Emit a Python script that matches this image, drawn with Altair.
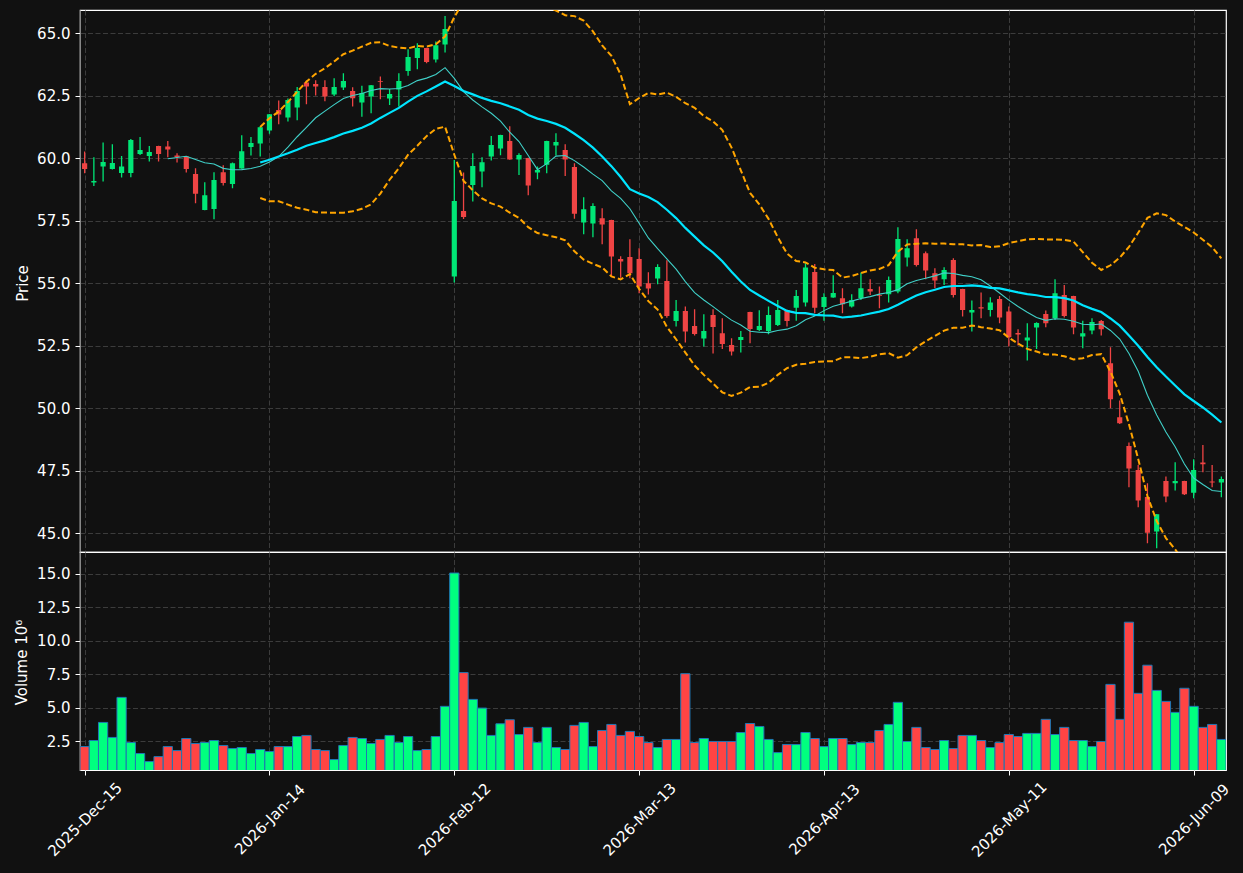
import json
import pandas as pd
import altair as alt

opens = [
    59.80, 59.03, 59.67, 59.57, 59.41, 59.41, 60.17, 60.09, 60.49, 60.47,
    60.11, 60.07, 59.37, 57.93, 57.97, 59.44, 58.97, 59.59, 60.45, 60.59,
    61.11, 61.93, 61.63, 62.03, 63.03, 62.97, 62.85, 62.55, 62.83, 62.69,
    62.23, 62.47, 63.09, 62.39, 62.75, 63.49, 64.01, 64.41, 63.95, 64.55,
    55.27, 57.89, 58.93, 59.47, 60.07, 60.39, 60.69, 59.95, 60.01, 59.43,
    59.74, 60.51, 60.33, 59.65, 57.43, 57.39, 57.60, 57.53, 55.97, 56.05,
    55.97, 55.00, 55.19, 55.09, 53.49, 53.89, 53.29, 52.79, 53.73, 53.00,
    52.53, 52.73, 53.85, 53.13, 53.09, 53.33, 53.93, 54.02, 54.23, 55.45,
    54.05, 54.43, 54.40, 54.07, 54.40, 54.77, 54.53, 54.56, 54.67, 56.03,
    56.80, 56.20, 55.40, 55.16, 55.93, 54.77, 53.83, 54.04, 53.93, 54.37,
    53.87, 53.01, 52.71, 53.23, 53.77, 53.60, 54.53, 54.49, 52.87, 53.11,
    53.49, 51.80, 49.64, 48.49, 47.53, 46.45, 45.07, 47.09, 47.00, 47.09,
    46.62, 47.83, 47.07, 47.03,
]
highs = [
    60.27, 60.04, 60.63, 60.56, 60.09, 60.77, 60.85, 60.49, 60.50, 60.69,
    60.20, 60.08, 59.60, 59.04, 59.44, 59.72, 59.83, 60.92, 60.85, 61.27,
    61.77, 62.31, 62.39, 62.85, 63.11, 63.12, 63.12, 63.20, 63.40, 62.84,
    62.90, 62.93, 63.27, 62.77, 63.40, 64.36, 64.60, 64.42, 64.67, 65.69,
    59.93, 59.43, 60.20, 60.04, 60.89, 60.94, 61.28, 60.20, 60.02, 59.67,
    60.70, 61.00, 60.56, 59.80, 58.44, 58.20, 58.00, 57.54, 56.08, 56.76,
    56.40, 55.44, 55.76, 55.92, 54.33, 54.07, 53.96, 53.76, 53.96, 53.60,
    52.80, 53.09, 53.86, 53.92, 54.07, 54.33, 53.94, 54.73, 55.80, 55.77,
    54.60, 55.32, 54.80, 54.56, 55.43, 55.16, 54.87, 55.27, 57.24, 56.76,
    57.16, 56.27, 55.60, 55.64, 56.00, 54.78, 54.31, 54.63, 54.44, 54.49,
    54.07, 53.16, 53.40, 53.44, 53.91, 55.16, 54.93, 54.50, 53.50, 53.60,
    53.53, 52.44, 50.31, 48.63, 47.73, 47.00, 45.77, 47.27, 47.84, 47.10,
    47.96, 48.53, 47.73, 47.27,
]
lows = [
    59.40, 58.89, 59.07, 59.55, 59.23, 59.24, 60.13, 59.87, 59.87, 60.04,
    59.83, 59.43, 58.20, 57.92, 57.56, 58.91, 58.80, 59.58, 60.11, 60.07,
    60.98, 61.36, 61.47, 61.52, 62.16, 62.51, 62.28, 62.48, 62.73, 62.07,
    61.66, 61.80, 62.36, 62.13, 62.07, 63.30, 63.56, 63.80, 63.83, 64.23,
    55.03, 57.57, 58.27, 58.84, 59.91, 60.12, 59.94, 59.33, 58.52, 59.16,
    59.40, 60.11, 59.29, 57.58, 56.96, 56.84, 56.56, 55.27, 55.22, 55.20,
    54.60, 54.55, 54.96, 53.62, 53.27, 52.63, 52.91, 52.47, 52.19, 52.37,
    52.11, 52.23, 52.60, 53.09, 52.96, 53.29, 53.27, 53.50, 54.07, 53.80,
    53.50, 54.42, 53.80, 54.03, 54.33, 54.53, 54.00, 54.23, 54.60, 55.67,
    55.67, 55.16, 54.80, 54.93, 54.43, 53.67, 53.07, 53.60, 53.67, 53.40,
    52.47, 52.51, 51.91, 52.37, 53.24, 53.53, 53.63, 52.96, 52.40, 52.96,
    52.91, 50.00, 49.37, 46.84, 46.04, 44.60, 44.40, 46.24, 46.71, 46.53,
    46.40, 47.44, 46.84, 46.44,
]
closes = [
    59.57, 59.09, 59.85, 59.81, 59.67, 60.73, 60.33, 60.25, 60.17, 60.35,
    60.05, 59.57, 58.58, 58.52, 59.13, 59.01, 59.80, 60.28, 60.61, 61.24,
    61.76, 61.75, 62.33, 62.69, 62.87, 62.87, 62.47, 62.85, 63.09, 62.40,
    62.61, 62.92, 63.06, 62.57, 63.09, 64.05, 64.41, 63.85, 64.52, 65.17,
    58.29, 57.65, 59.69, 59.84, 60.53, 60.93, 59.95, 60.13, 58.91, 59.53,
    60.69, 60.65, 59.95, 57.78, 57.96, 58.09, 57.35, 56.07, 55.87, 55.40,
    54.87, 54.79, 55.65, 53.69, 53.89, 53.07, 52.97, 53.09, 53.25, 52.57,
    52.27, 52.85, 53.17, 53.29, 53.73, 53.93, 53.49, 54.49, 55.63, 54.02,
    54.45, 54.61, 54.16, 54.33, 54.80, 54.67, 54.50, 55.13, 56.77, 56.40,
    55.73, 55.51, 55.11, 55.53, 54.53, 53.93, 53.93, 53.99, 54.23, 53.63,
    52.84, 52.95, 52.83, 53.41, 53.40, 54.60, 53.69, 53.23, 53.00, 53.45,
    53.16, 50.36, 49.40, 47.59, 46.31, 45.02, 45.76, 46.47, 47.09, 46.56,
    47.53, 47.76, 47.03, 47.17,
]
volumes = [  # millions
    2.12, 2.57, 3.92, 2.80, 5.79, 2.42, 1.60, 1.00, 1.37, 2.12,
    1.82, 2.72, 2.35, 2.42, 2.57, 2.20, 1.97, 2.05, 1.60, 1.90,
    1.75, 2.12, 2.12, 2.87, 2.95, 1.90, 1.82, 1.15, 2.20, 2.80,
    2.72, 2.35, 2.65, 2.95, 2.42, 2.87, 1.82, 1.90, 2.87, 5.12,
    15.07, 7.64, 5.64, 4.99, 2.95, 3.82, 4.12, 3.02, 3.55, 2.42,
    3.55, 2.05, 1.90, 3.70, 3.92, 2.12, 3.32, 3.77, 2.95, 3.25,
    2.87, 2.42, 2.05, 2.65, 2.65, 7.56, 2.42, 2.72, 2.50, 2.50,
    2.50, 3.17, 3.84, 3.62, 2.65, 1.67, 2.27, 2.27, 3.17, 2.72,
    2.12, 2.72, 2.72, 2.27, 2.42, 2.42, 3.32, 3.77, 5.42, 2.50,
    3.55, 2.05, 1.90, 2.57, 1.97, 2.95, 2.95, 2.57, 2.05, 2.42,
    3.02, 2.87, 3.10, 3.10, 4.15, 3.02, 3.55, 2.57, 2.57, 2.12,
    2.50, 6.76, 4.15, 11.40, 6.09, 8.19, 6.31, 5.49, 4.67, 6.47,
    5.12, 3.55, 3.77, 2.65,
]
tick_positions = [0, 20, 40, 60, 80, 100, 120]
tick_labels = ["2025-Dec-15", "2026-Jan-14", "2026-Feb-12", "2026-Mar-13",
               "2026-Apr-13", "2026-May-11", "2026-Jun-09"]
price_ticks = [45.0, 47.5, 50.0, 52.5, 55.0, 57.5, 60.0, 62.5, 65.0]
volume_ticks = [2.5, 5.0, 7.5, 10.0, 12.5, 15.0]

df = pd.DataFrame({
    "idx": list(range(len(closes))),
    "o": opens, "h": highs, "l": lows, "c": closes, "v": volumes,
})

BG = "#111111"
UP = "#00e676"
DOWN = "#ef4444"
VUP = "#00ff7f"
VDOWN = "#ff4444"
FONT = "DejaVu Sans"

W, HP, HV = 1146, 542, 218

xscale = alt.Scale(domain=[-0.5, 123.5], nice=False, zero=False)
pscale = alt.Scale(domain=[44.25, 65.93], nice=False, zero=False)
vscale = alt.Scale(domain=[0.37, 16.64], nice=False, zero=False)

up_cond = "datum.c >= datum.o"

x_price_axis = alt.Axis(values=tick_positions, labels=False, ticks=False,
                        domain=False, grid=True, title=None)
y_price_axis = alt.Axis(values=price_ticks, format=".1f", title="Price",
                        titleX=-58, titleY=273, titleAngle=270,
                        titleAlign="center", titleBaseline="middle",
                        labelPadding=5, grid=True)

label_expr = json.dumps(tick_labels) + "[datum.value / 20]"
x_vol_axis = alt.Axis(values=tick_positions, labelExpr=label_expr, labelAngle=315,
                      labelAlign="center", labelBaseline="middle", labelPadding=44,
                      labelOverlap=False, labelFlush=False, grid=True, title=None,
                      ticks=True, domain=False)
y_vol_axis = alt.Axis(values=volume_ticks, format=".1f", title="Volume  10⁶",
                      titleX=-59, titleY=110, titleAngle=270,
                      titleAlign="center", titleBaseline="middle",
                      labelPadding=5, grid=True)

base = alt.Chart(df).transform_calculate(
    x0="datum.idx - 0.28", x1="datum.idx + 0.28",
    bl="min(datum.o, datum.c)", bh="max(datum.o, datum.c)",
)

wicks = base.mark_rule(strokeWidth=1.3, clip=True).encode(
    x=alt.X("idx:Q", scale=xscale, axis=x_price_axis),
    y=alt.Y("l:Q", scale=pscale, axis=y_price_axis),
    y2="h:Q",
    color=alt.condition(up_cond, alt.value(UP), alt.value(DOWN)),
)
bodies = base.mark_rect(clip=True).encode(
    x="x0:Q", x2="x1:Q", y="bl:Q", y2="bh:Q",
    color=alt.condition(up_cond, alt.value(UP), alt.value(DOWN)),
)

ma = alt.Chart(df).transform_window(
    window=[
        alt.WindowFieldDef(op="mean", field="c", **{"as": "sma20"}),
        alt.WindowFieldDef(op="stdev", field="c", **{"as": "sd20"}),
        alt.WindowFieldDef(op="count", **{"as": "n20"}),
    ],
    frame=[-19, 0], sort=[alt.SortField("idx")],
).transform_window(
    window=[
        alt.WindowFieldDef(op="mean", field="c", **{"as": "sma10"}),
        alt.WindowFieldDef(op="count", **{"as": "n10"}),
    ],
    frame=[-9, 0], sort=[alt.SortField("idx")],
).transform_calculate(
    upper="datum.sma20 + 2 * datum.sd20",
    lower="datum.sma20 - 2 * datum.sd20",
)

line10 = ma.transform_filter("datum.n10 >= 10").mark_line(
    color="#40d0c8", strokeWidth=1.1, clip=True).encode(x="idx:Q", y="sma10:Q")
ma20 = ma.transform_filter("datum.n20 >= 20")
line20 = ma20.mark_line(color="#00e5ff", strokeWidth=2.2, clip=True).encode(
    x="idx:Q", y="sma20:Q")
upper = ma20.mark_line(color="#ffa500", strokeWidth=2.0, strokeDash=[6, 3],
                       clip=True).encode(x="idx:Q", y="upper:Q")
lower = ma20.mark_line(color="#ffa500", strokeWidth=2.0, strokeDash=[6, 3],
                       clip=True).encode(x="idx:Q", y="lower:Q")

frame_top = alt.Chart(alt.Data(values=[{"k": 1}])).mark_rule(opacity=0).encode(
    x=alt.value(-79), x2=alt.value(W + 16), y=alt.value(-9))

price = alt.layer(wicks, bodies, line10, line20, upper, lower, frame_top).properties(
    width=W, height=HP)

vol = alt.Chart(df).transform_calculate(
    x0="datum.idx - 0.5", x1="datum.idx + 0.5", zero="0"
).mark_rect(stroke="#1f77b4", strokeWidth=1, clip=True).encode(
    x=alt.X("x0:Q", scale=xscale, axis=x_vol_axis),
    x2="x1:Q",
    y=alt.Y("v:Q", scale=vscale, axis=y_vol_axis),
    y2="zero:Q",
    fill=alt.condition(up_cond, alt.value(VUP), alt.value(VDOWN)),
)
frame_bottom = alt.Chart(alt.Data(values=[{"k": 1}])).mark_rule(opacity=0).encode(
    x=alt.value(-79), x2=alt.value(W + 16), y=alt.value(HV + 102))

volume = alt.layer(vol, frame_bottom).properties(width=W, height=HV)

chart = alt.vconcat(price, volume, spacing=0, bounds="flush").properties(
    background=BG, padding=0
).configure_view(
    stroke="#ffffff", strokeWidth=1.2
).configure_axis(
    labelColor="#ffffff", labelFont=FONT, labelFontSize=15,
    titleColor="#ffffff", titleFont=FONT, titleFontSize=15, titleFontWeight="normal",
    tickColor="#ffffff", tickSize=5, tickWidth=1,
    gridColor="#3c3c3c", gridDash=[5, 2.5], gridWidth=1,
)

chart.save("out.html", embed_options={"renderer": "svg", "actions": False})
